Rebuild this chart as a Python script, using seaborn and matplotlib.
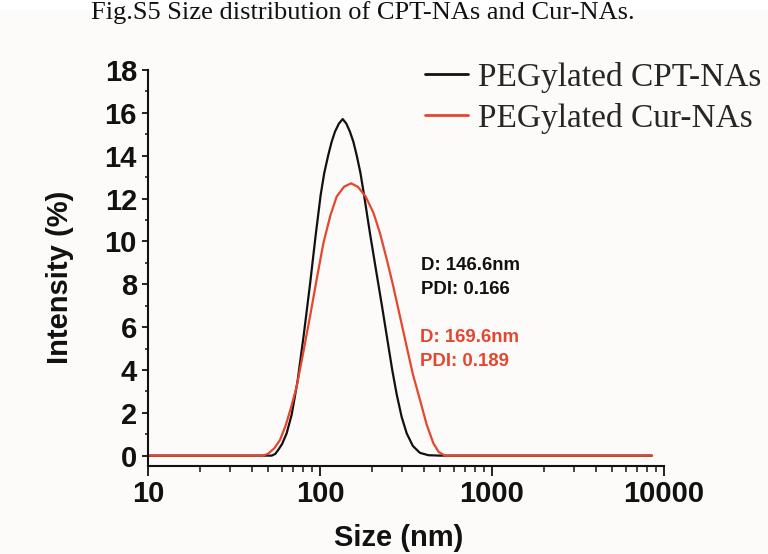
import matplotlib
matplotlib.use("Agg")
import matplotlib.pyplot as plt
import seaborn as sns
import pandas as pd
from matplotlib.lines import Line2D
from matplotlib.patches import Rectangle

# ---- data ----
cpt_size = [10, 52.36, 54.95, 57.54, 60.26, 63.97, 68.39, 74.13, 80.35, 87.50, 94.41,
            100.9, 105.9, 111.7, 116.9, 122.2, 128.8, 135.5, 142.2, 149.3, 156.3,
            163.3, 171.8, 180.3, 195.0, 213.3, 229.1, 244.3, 263.0, 279.3, 298.5,
            319.2, 346.7, 381.1, 426.6, 498.9, 8500]
cpt_int = [0, 0, 0.08, 0.3, 0.55, 1.04, 1.9, 3.5, 5.6, 8.0, 10.3,
           12.17, 13.2, 14.03, 14.65, 15.12, 15.5, 15.71, 15.5, 15.12, 14.65,
           14.03, 13.2, 12.17, 10.4, 8.5, 7.0, 5.6, 4.0, 2.85, 1.8,
           1.04, 0.45, 0.13, 0.02, 0, 0]

cur_size = [10, 46.83, 50.12, 54.33, 58.53, 63.10, 67.61, 73.15, 79.43, 87.46, 95.50,
            104.6, 114.8, 125.0, 138.0, 151.4, 166.0, 184.3, 204.2, 223.3, 245.5,
            266.9, 291.7, 319.1, 346.7, 381.4, 416.9, 456.0, 489.8, 533.0, 8500]
cur_int = [0, 0, 0.1, 0.35, 0.73, 1.4, 2.2, 3.22, 4.7, 6.49, 8.2,
           9.91, 11.2, 12.09, 12.55, 12.71, 12.55, 12.09, 11.35, 10.38, 9.1,
           7.89, 6.5, 5.09, 3.8, 2.60, 1.45, 0.58, 0.17, 0, 0]

series_names = ["PEGylated CPT-NAs", "PEGylated Cur-NAs"]
series_colors = ["#111111", "#e5462d"]
y_ticks = [0, 2, 4, 6, 8, 10, 12, 14, 16, 18]
x_ticks = [10, 100, 1000, 10000]
x_tick_labels = ["10", "100", "1000", "10000"]
annot_cpt = ["D: 146.6nm", "PDI: 0.166"]
annot_cur = ["D: 169.6nm", "PDI: 0.189"]
caption = "Fig.S5 Size distribution of CPT-NAs and Cur-NAs."

df = pd.concat([
    pd.DataFrame({"size": cpt_size, "intensity": cpt_int, "sample": series_names[0]}),
    pd.DataFrame({"size": cur_size, "intensity": cur_int, "sample": series_names[1]}),
], ignore_index=True)

sns.set_style("ticks")
plt.rcParams["font.family"] = ["Liberation Sans", "DejaVu Sans"]

W, H = 768, 554
fig = plt.figure(figsize=(W / 100, H / 100), dpi=100, facecolor="#fcfbf9")
fig.patches.append(Rectangle((0, 1 - 10 / H), 1, 10 / H, transform=fig.transFigure,
                             facecolor="white", edgecolor="none", zorder=-1))

left, right, top, bottom = 148, 664, 70, 465.7
ax = fig.add_axes([left / W, 1 - bottom / H, (right - left) / W, (bottom - top) / H])
ax.set_facecolor("none")

sns.lineplot(data=df, x="size", y="intensity", hue="sample",
             palette=dict(zip(series_names, series_colors)),
             estimator=None, sort=True, linewidth=1.6, ax=ax, legend=False)
for ln in ax.get_lines():
    ln.set_solid_joinstyle("round")

ax.set_xscale("log")
ax.set_xlim(10, 10000)
ax.set_ylim(-0.47, 18)
ax.set_xticks(x_ticks)
ax.set_xticklabels(x_tick_labels)
ax.set_yticks(y_ticks)
ax.yaxis.set_minor_locator(matplotlib.ticker.MultipleLocator(1))
ax.xaxis.set_minor_locator(matplotlib.ticker.LogLocator(base=10, subs=range(2, 10)))
ax.xaxis.set_minor_formatter(matplotlib.ticker.NullFormatter())

for s in ["top", "right"]:
    ax.spines[s].set_visible(False)
for s in ["left", "bottom"]:
    ax.spines[s].set_linewidth(1.5)
    ax.spines[s].set_color("#111111")

ax.tick_params(axis="y", which="major", length=4, width=1.3, pad=4, labelsize=21, colors="#111111")
ax.tick_params(axis="y", which="minor", length=2.5, width=1.2)
ax.tick_params(axis="x", which="major", length=7, width=1.3, pad=3.5, labelsize=21, colors="#111111")
ax.tick_params(axis="x", which="minor", length=4.5, width=1.2)
for lab in ax.get_xticklabels() + ax.get_yticklabels():
    lab.set_fontweight("bold")

ax.set_xlabel("Size (nm)", fontsize=21, fontweight="bold", color="#111111")
ax.set_ylabel("Intensity (%)", fontsize=21, fontweight="bold", color="#111111")
ax.xaxis.set_label_coords((399 - left) / (right - left), (bottom - 538) / (bottom - top))
ax.xaxis.label.set_va("center")
ax.yaxis.set_label_coords((60 - left) / (right - left), (bottom - 277) / (bottom - top))
ax.yaxis.label.set_va("center")

# legend
handles = [Line2D([], [], color=c, linewidth=2) for c in series_colors]
fig.legend(handles, series_names, loc="center left",
           bbox_to_anchor=(425 / W, 1 - 97.5 / H), frameon=False,
           prop={"family": "Liberation Serif", "size": 24},
           handlelength=1.3, handletextpad=0.3, labelspacing=0.3,
           borderpad=0, borderaxespad=0)

# annotations
for txt, yp in zip(annot_cpt, [266, 290]):
    fig.text(421 / W, 1 - yp / H, txt, ha="left", va="center",
             fontsize=13.4, fontweight="bold", color="#111111")
for txt, yp in zip(annot_cur, [338, 361]):
    fig.text(420 / W, 1 - yp / H, txt, ha="left", va="center",
             fontsize=13.4, fontweight="bold", color=series_colors[1])

# caption at the top of the image
fig.text(363 / W, 1 - 1 / H, caption, ha="center", va="top",
         family="Liberation Serif", fontsize=19, color="#111111")

fig.savefig("out.png", dpi=100, facecolor=fig.get_facecolor())
